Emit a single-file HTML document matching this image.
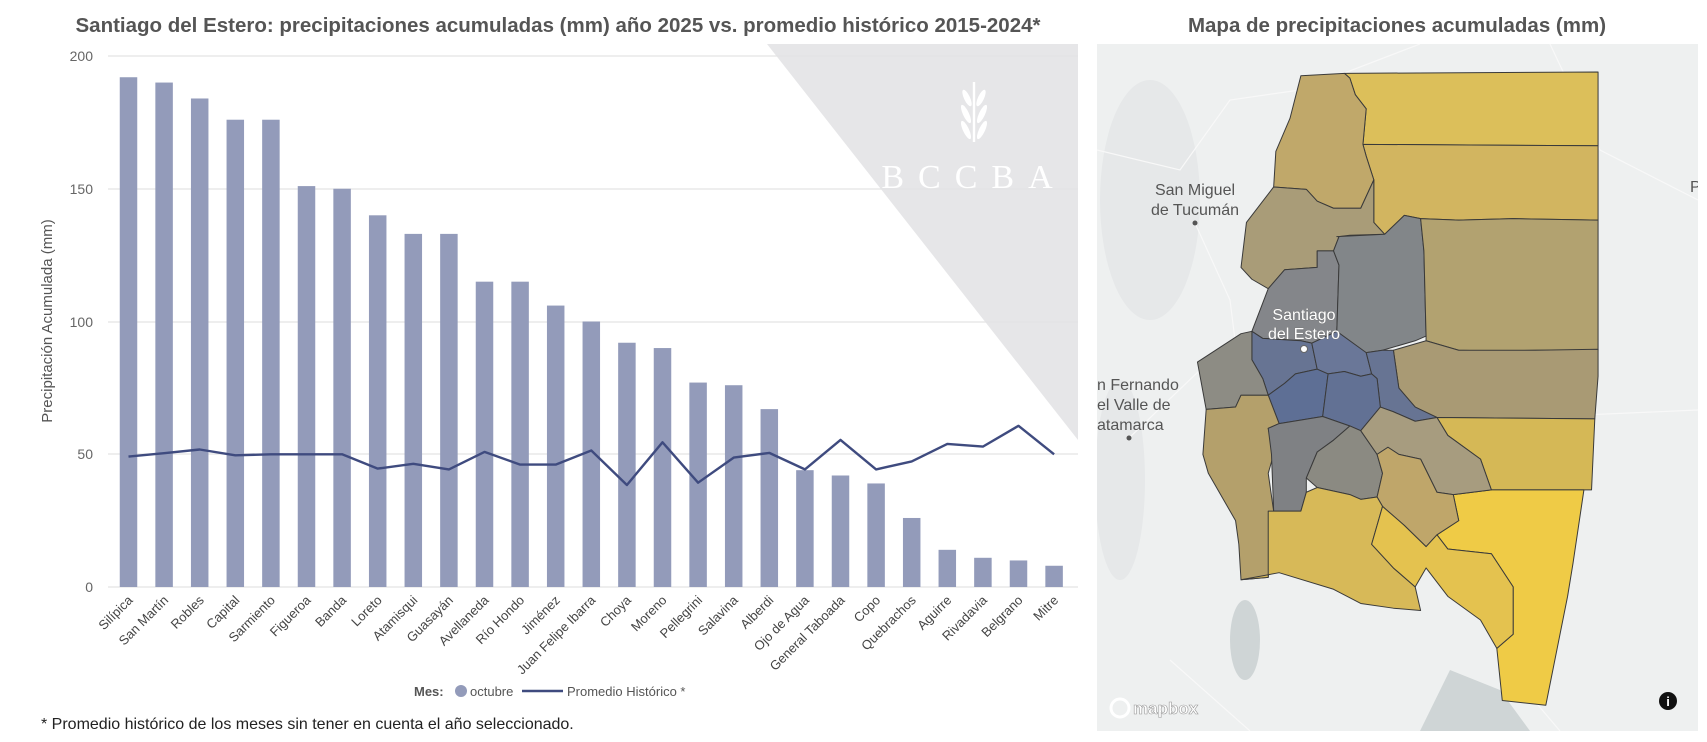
<!DOCTYPE html>
<html><head><meta charset="utf-8"><style>
html,body{margin:0;padding:0;background:#fff;width:1707px;height:742px;overflow:hidden}
svg{display:block;font-family:"Liberation Sans","DejaVu Sans",sans-serif}
</style></head><body>
<svg width="1707" height="742" viewBox="0 0 1707 742">
<!-- titles -->
<text x="558" y="32" text-anchor="middle" font-size="20.5" font-weight="bold" fill="#555">Santiago del Estero: precipitaciones acumuladas (mm) año 2025 vs. promedio histórico 2015-2024*</text>
<text x="1397" y="32" text-anchor="middle" font-size="20.5" font-weight="bold" fill="#555">Mapa de precipitaciones acumuladas (mm)</text>
<!-- watermark -->
<polygon points="767,44 1078,44 1078,440" fill="#e6e6e8"/>
<g fill="#fff" transform="translate(974,118)">
<rect x="-1.2" y="-36" width="2.4" height="60"/>
<ellipse cx="-7" cy="-20" rx="3" ry="9" transform="rotate(-25 -7 -20)"/>
<ellipse cx="7" cy="-20" rx="3" ry="9" transform="rotate(25 7 -20)"/>
<ellipse cx="-8" cy="-4" rx="3" ry="10" transform="rotate(-25 -8 -4)"/>
<ellipse cx="8" cy="-4" rx="3" ry="10" transform="rotate(25 8 -4)"/>
<ellipse cx="-8" cy="12" rx="3" ry="10" transform="rotate(-25 -8 12)"/>
<ellipse cx="8" cy="12" rx="3" ry="10" transform="rotate(25 8 12)"/>
</g>
<text x="974" y="188" text-anchor="middle" font-family="Liberation Serif,serif" font-size="34" fill="#fff" letter-spacing="14">BCCBA</text>
<!-- gridlines -->
<g stroke="#e4e4e4" stroke-width="1.2">
<line x1="108" y1="56" x2="1078" y2="56"/><line x1="108" y1="189" x2="1078" y2="189"/>
<line x1="108" y1="322" x2="1078" y2="322"/><line x1="108" y1="454" x2="1078" y2="454"/>
<line x1="108" y1="587" x2="1078" y2="587"/>
</g>
<g font-size="14" fill="#666" text-anchor="end">
<text x="93" y="61">200</text><text x="93" y="194">150</text><text x="93" y="327">100</text><text x="93" y="459">50</text><text x="93" y="592">0</text>
</g>
<text transform="translate(52,321) rotate(-90)" text-anchor="middle" font-size="15" fill="#555">Precipitación Acumulada (mm)</text>
<g id="bars" fill="#939bba"></g>
<polyline id="ln" fill="none" stroke="#3f4b7f" stroke-width="2.4" stroke-linejoin="round"/>
<g id="lbl" font-size="13" fill="#444" text-anchor="end"></g>
<!-- legend -->
<text x="414" y="696" font-size="13" font-weight="bold" fill="#555">Mes:</text>
<circle cx="461" cy="691" r="6" fill="#939bba"/>
<text x="470" y="696" font-size="13" fill="#555">octubre</text>
<line x1="522" y1="691" x2="563" y2="691" stroke="#3f4b7f" stroke-width="2.5"/>
<text x="567" y="696" font-size="13" fill="#555">Promedio Histórico *</text>
<text x="41" y="729" font-size="16" fill="#222">* Promedio histórico de los meses sin tener en cuenta el año seleccionado.</text>
<!-- map -->
<clipPath id="mc"><rect x="1097" y="44" width="601" height="687"/></clipPath>
<g clip-path="url(#mc)">
<rect x="1097" y="44" width="601" height="687" fill="#eef0f0"/>
<g fill="#e6e8e9"><ellipse cx="1150" cy="200" rx="50" ry="120"/><ellipse cx="1120" cy="480" rx="25" ry="100"/></g>
<g fill="none" stroke="#f8f8f8" stroke-width="1.2">
<path d="M1097 150 L1180 170 L1230 100 L1300 90 L1420 44"/><path d="M1195 223 L1230 300 L1240 380"/><path d="M1129 438 L1200 370 L1250 340"/><path d="M1468 420 L1698 410"/><path d="M1550 44 L1600 150 L1698 200"/><path d="M1170 660 L1250 731"/><path d="M1500 660 L1560 731"/>
</g>
<ellipse cx="1245" cy="640" rx="15" ry="40" fill="#cfd5d6"/>
<path d="M1420 731 L1450 670 L1500 690 L1530 731Z" fill="#cfd5d6"/>
<g transform="scale(1.0886 0.4733)" stroke="#3a3a3a" stroke-width="1" stroke-linejoin="round">
<polygon vector-effect="non-scaling-stroke" fill="#dcbf5a" points="1235,155 1468,152 1468,308 1252,305 1255,230 1245,200 1240,165"/>
<polygon vector-effect="non-scaling-stroke" fill="#d2b560" points="1252,305 1468,308 1468,465 1390,462 1340,465 1305,462 1290,455 1272,495 1262,470 1262,380 1255,330"/>
<polygon vector-effect="non-scaling-stroke" fill="#c0a86a" points="1195,160 1235,155 1240,165 1245,200 1255,230 1252,305 1255,330 1262,380 1250,440 1225,440 1210,425 1200,400 1170,395 1172,320 1185,250"/>
<polygon vector-effect="non-scaling-stroke" fill="#a99c78" points="1140,565 1145,470 1170,395 1200,400 1210,425 1225,440 1250,440 1262,380 1262,470 1272,495 1240,497 1230,500 1225,530 1210,530 1210,565 1180,570 1165,610 1150,590"/>
<polygon vector-effect="non-scaling-stroke" fill="#84868a" points="1165,610 1180,570 1210,565 1210,530 1225,530 1230,560 1228,700 1205,725 1195,720 1160,715 1150,700 1160,640"/>
<polygon vector-effect="non-scaling-stroke" fill="#828689" points="1228,500 1272,495 1290,455 1305,462 1308,530 1310,710 1300,720 1270,740 1255,745 1230,720 1228,700 1230,560 1225,530 1230,500"/>
<polygon vector-effect="non-scaling-stroke" fill="#b2a270" points="1305,462 1340,465 1390,462 1468,465 1468,740 1410,740 1380,742 1340,740 1310,720 1310,710 1308,530"/>
<polygon vector-effect="non-scaling-stroke" fill="#a99a74" points="1280,740 1310,720 1340,740 1410,740 1468,738 1468,795 1465,885 1320,882 1300,860 1285,820"/>
<polygon vector-effect="non-scaling-stroke" fill="#d5b856" points="1320,882 1465,885 1462,1035 1370,1035 1360,970 1330,920"/>
<polygon vector-effect="non-scaling-stroke" fill="#efcb46" points="1370,1035 1455,1035 1445,1190 1440,1260 1420,1490 1380,1480 1375,1370 1390,1340 1390,1240 1370,1170 1330,1160 1320,1130 1340,1100 1335,1045"/>
<polygon vector-effect="non-scaling-stroke" fill="#677493" points="1150,700 1160,715 1195,720 1205,725 1210,780 1190,790 1180,810 1165,835 1160,800 1150,760"/>
<polygon vector-effect="non-scaling-stroke" fill="#6a7798" points="1205,725 1228,700 1255,745 1260,790 1250,795 1235,785 1220,790 1210,780"/>
<polygon vector-effect="non-scaling-stroke" fill="#677493" points="1255,745 1270,740 1280,740 1285,820 1300,860 1320,882 1300,890 1280,870 1268,860 1265,800 1260,790"/>
<polygon vector-effect="non-scaling-stroke" fill="#5e6f95" points="1165,835 1180,810 1190,790 1210,780 1220,790 1215,880 1175,895"/>
<polygon vector-effect="non-scaling-stroke" fill="#627194" points="1220,790 1235,785 1250,795 1260,790 1265,800 1268,860 1250,910 1240,900 1215,880"/>
<polygon vector-effect="non-scaling-stroke" fill="#8d8c84" points="1100,765 1140,705 1150,700 1150,760 1160,800 1165,835 1140,835 1135,860 1108,865"/>
<polygon vector-effect="non-scaling-stroke" fill="#b4a06b" points="1108,865 1135,860 1140,835 1165,835 1175,895 1165,905 1170,960 1165,1000 1170,1080 1165,1220 1140,1225 1138,1150 1135,1100 1110,1000 1105,960"/>
<polygon vector-effect="non-scaling-stroke" fill="#7f8184" points="1165,905 1175,895 1215,880 1240,900 1225,930 1210,955 1200,1010 1200,1040 1195,1080 1170,1080 1168,960"/>
<polygon vector-effect="non-scaling-stroke" fill="#8b8a82" points="1200,1010 1210,955 1225,930 1240,900 1250,910 1265,960 1270,1000 1265,1050 1250,1055 1240,1045 1210,1030"/>
<polygon vector-effect="non-scaling-stroke" fill="#a79c7f" points="1250,910 1268,860 1280,870 1300,890 1320,882 1330,920 1360,970 1370,1035 1335,1045 1320,1040 1305,970 1285,960 1275,945 1265,960"/>
<polygon vector-effect="non-scaling-stroke" fill="#bfa66a" points="1265,960 1275,945 1285,960 1305,970 1320,1040 1335,1045 1340,1100 1320,1130 1310,1155 1290,1110 1270,1070 1265,1050 1270,1000"/>
<polygon vector-effect="non-scaling-stroke" fill="#d7b958" points="1165,1080 1195,1080 1200,1040 1210,1030 1240,1045 1250,1055 1265,1050 1270,1070 1260,1150 1280,1200 1300,1240 1305,1290 1280,1285 1250,1275 1225,1245 1175,1210 1140,1225 1165,1220"/>
<polygon vector-effect="non-scaling-stroke" fill="#e4c24f" points="1270,1070 1290,1110 1310,1155 1320,1130 1330,1160 1370,1170 1390,1240 1390,1340 1375,1370 1360,1310 1330,1260 1310,1200 1300,1240 1280,1200 1260,1150"/>
</g>
<g font-size="16" fill="#555" text-anchor="middle">
<text x="1195" y="195">San Miguel</text><text x="1195" y="215">de Tucumán</text>
<circle cx="1195" cy="223" r="2.5" fill="#555"/>
<text x="1097" y="390" text-anchor="start">n Fernando</text>
<text x="1097" y="410" text-anchor="start">el Valle de</text>
<text x="1097" y="430" text-anchor="start">atamarca</text>
<circle cx="1129" cy="438" r="2.5" fill="#555"/>
<text x="1690" y="192" text-anchor="start">Pr</text>
</g>
<g font-size="16" fill="#fff" stroke="#777" stroke-width="0.8" text-anchor="middle" paint-order="stroke">
<text x="1304" y="320">Santiago</text><text x="1304" y="339">del Estero</text>
</g>
<circle cx="1304" cy="349" r="3.5" fill="#fff" stroke="#666"/>
<circle cx="1120" cy="708" r="9" fill="none" stroke="#fff" stroke-width="3"/>
<text x="1133" y="714" font-size="17" font-weight="bold" fill="#fff" stroke="#999" stroke-width="0.6">mapbox</text>
<circle cx="1668" cy="701" r="9" fill="#111"/>
<text x="1668" y="706" font-size="13" font-weight="bold" fill="#fff" text-anchor="middle">i</text>
</g>
<script>
var names=["Silípica","San Martín","Robles","Capital","Sarmiento","Figueroa","Banda","Loreto","Atamisqui","Guasayán","Avellaneda","Río Hondo","Jiménez","Juan Felipe Ibarra","Choya","Moreno","Pellegrini","Salavina","Alberdi","Ojo de Agua","General Taboada","Copo","Quebrachos","Aguirre","Rivadavia","Belgrano","Mitre"];
var v=[192,190,184,176,176,151,150,140,133,133,115,115,106,100,92,90,77,76,67,44,42,39,26,14,11,10,8];
var l=[49.1,50.4,51.8,49.6,50,50,50,44.6,46.4,44.3,50.9,46.1,46.1,51.4,38.4,54.5,39.3,48.75,50.5,44.3,55.4,44.3,47.3,53.9,52.9,60.7,50];
var ns="http://www.w3.org/2000/svg",b=document.getElementById("bars"),g=document.getElementById("lbl"),pts=[];
for(var i=0;i<27;i++){var cx=128.5+i*35.6;var r=document.createElementNS(ns,"rect");var h=v[i]*2.655;
r.setAttribute("x",cx-8.75);r.setAttribute("y",587-h);r.setAttribute("width",17.5);r.setAttribute("height",h);b.appendChild(r);
pts.push(cx+","+(587-l[i]*2.655).toFixed(1));
var t=document.createElementNS(ns,"text");t.setAttribute("transform","translate("+(cx+5)+",601) rotate(-45)");t.textContent=names[i];g.appendChild(t);}
document.getElementById("ln").setAttribute("points",pts.join(" "));
</script>
</svg>
</body></html>
